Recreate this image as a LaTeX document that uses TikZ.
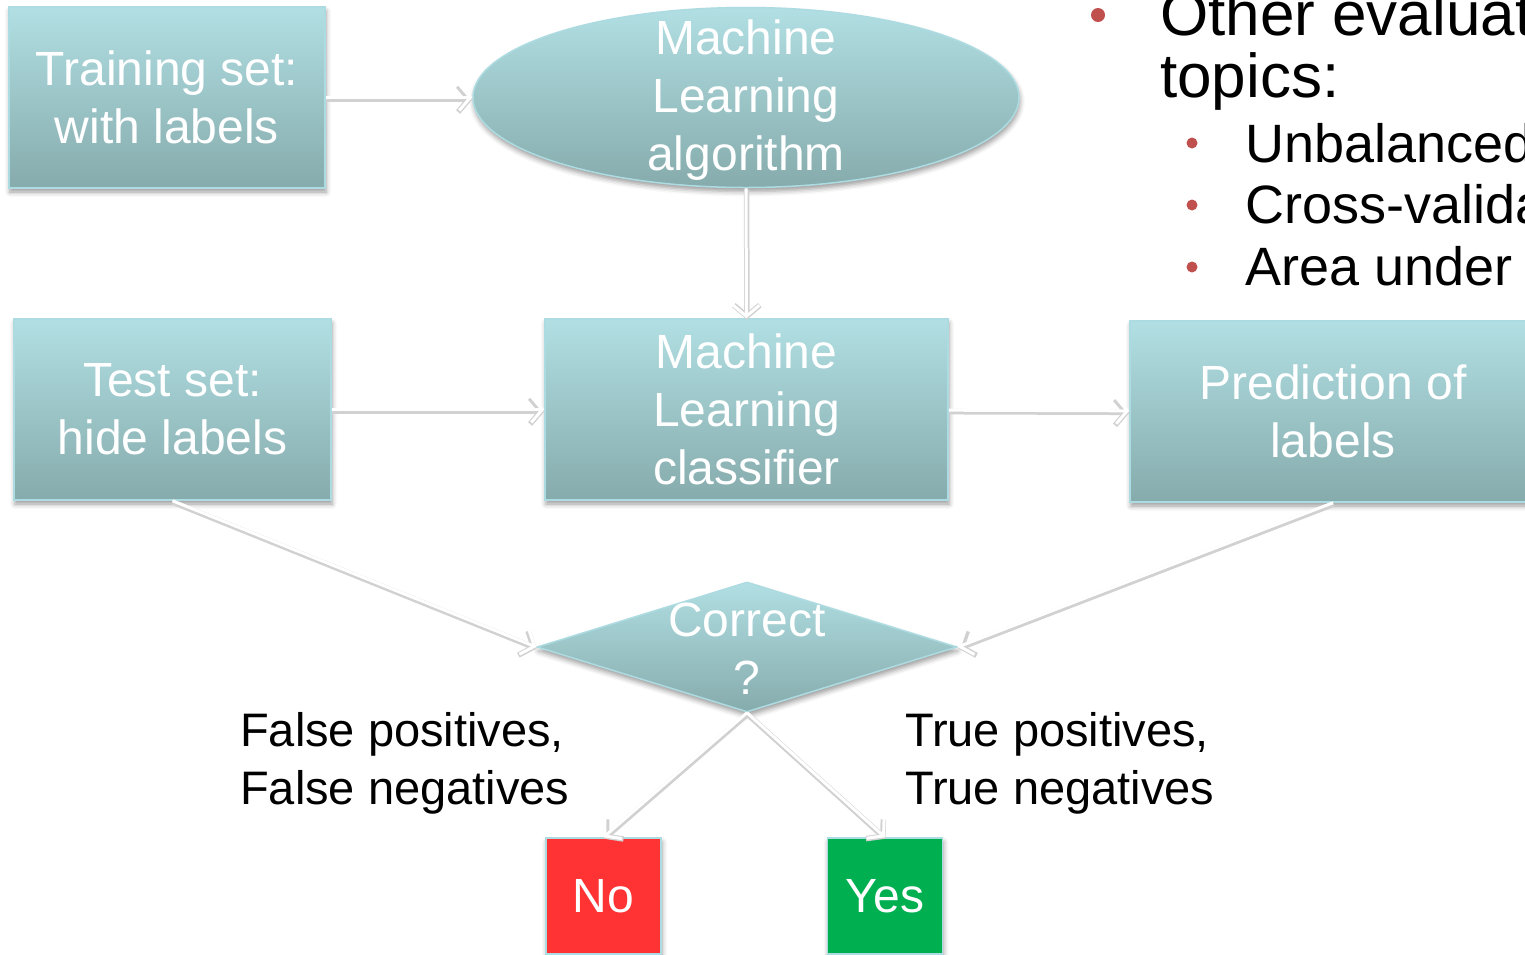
\documentclass[tikz,border=0pt]{standalone}
\usepackage{fontspec}
\setmainfont{Liberation Sans}
\usetikzlibrary{shapes.geometric,arrows.meta,shadows.blur}

\definecolor{tealtop}{RGB}{177,223,227}
\definecolor{tealbot}{RGB}{134,171,172}
\definecolor{tealedge}{RGB}{172,219,225}
\definecolor{noRed}{RGB}{255,51,51}
\definecolor{yesGreen}{RGB}{0,176,80}
\definecolor{bulletRed}{RGB}{192,80,77}

\tikzset{
  fnt/.style={font=\fontsize{48}{58}\selectfont},
  softshadow/.style={blur shadow={shadow xshift=1pt, shadow yshift=-4pt,
      shadow blur radius=5pt, shadow opacity=40}},
  stage/.style={draw=tealedge, line width=1.5pt, top color=tealtop,
      bottom color=tealbot, text=white, fnt, align=center, inner sep=0pt,
      softshadow},
  inlabel/.style={text=white, fnt, align=center, inner sep=0pt},
  outcome/.style={draw=tealedge, line width=1.5pt, text=white, fnt,
      inner sep=0pt, minimum width=115pt, minimum height=116pt, softshadow},
  flow/.style={draw=white, line width=3pt,
      -{Straight Barb[length=11pt,width=26pt]},
      preaction={draw=black!18, line width=5.5pt,
        transform canvas={xshift=0.5pt,yshift=-1.5pt}}},
  caption/.style={anchor=base west, inner sep=0pt, text=black,
      font=\fontsize{47}{57}\selectfont},
  toplevel/.style={anchor=base west, inner sep=0pt, text=black,
      font=\fontsize{62}{62}\selectfont},
  sublevel/.style={anchor=base west, inner sep=0pt, text=black,
      font=\fontsize{54}{62}\selectfont},
}

\begin{document}
\begin{tikzpicture}[x=1pt,y=-1pt]
\useasboundingbox (0,0) rectangle (1525,954);
\clip (0,0) rectangle (1525,954);

% flow stages
\node[stage, minimum width=316pt, minimum height=181pt] (train) at (167,97.5)
  {Training set:\\with labels};
\node[stage, ellipse, minimum width=546pt, minimum height=180pt] (alg) at (746,97.5) {};
\node[inlabel] (algtext) at (746,100) {Machine\\Learning\\algorithm};
\node[stage, minimum width=317pt, minimum height=181pt] (test) at (172.5,409.5)
  {Test set:\\hide labels};
\node[stage, minimum width=403pt, minimum height=181pt] (cls) at (746.5,409.5)
  {Machine\\Learning\\classifier};
\node[stage, minimum width=406pt, minimum height=181pt] (pred) at (1333,411.5)
  {Prediction of\\labels};
\node[stage, diamond, minimum width=420pt, minimum height=130pt] (chk) at (747,647) {};
\node[inlabel] (chktext) at (747,649) {Correct\\?};

% outcomes
\node[outcome, fill=noRed] (no) at (603.5,896) {No};
\node[outcome, fill=yesGreen] (yes) at (885,896) {Yes};

% connectors
\draw[flow] (train) -- (alg);
\draw[flow] (alg) -- (cls);
\draw[flow] (test) -- (cls);
\draw[flow] (cls) -- (pred);
\draw[flow] (test.south) -- (chk.west);
\draw[flow] (pred.south) -- (chk.east);
\draw[flow] (chk.south) -- (no.north);
\draw[flow] (chk.south) -- (yes.north);

% outcome captions
\node[caption] (fp) at (240,746) {False positives,};
\node[caption] (fn) at (240,804) {False negatives};
\node[caption] (tp) at (905,746) {True positives,};
\node[caption] (tn) at (905,804) {True negatives};

% bullet list
\fill[bulletRed] (1098,15) circle (7pt);
\node[toplevel] (other) at (1160,35) {Other evaluation};
\node[toplevel] (topics) at (1160,97) {topics:};
\fill[bulletRed] (1192,143) circle (5.5pt);
\fill[bulletRed] (1192,205) circle (5.5pt);
\fill[bulletRed] (1192,267) circle (5.5pt);
\node[sublevel] (unbal) at (1245,162) {Unbalanced data};
\node[sublevel] (cross) at (1245,223) {Cross-validation};
\node[sublevel] (area) at (1245,285) {Area under the curve};
\end{tikzpicture}
\end{document}
